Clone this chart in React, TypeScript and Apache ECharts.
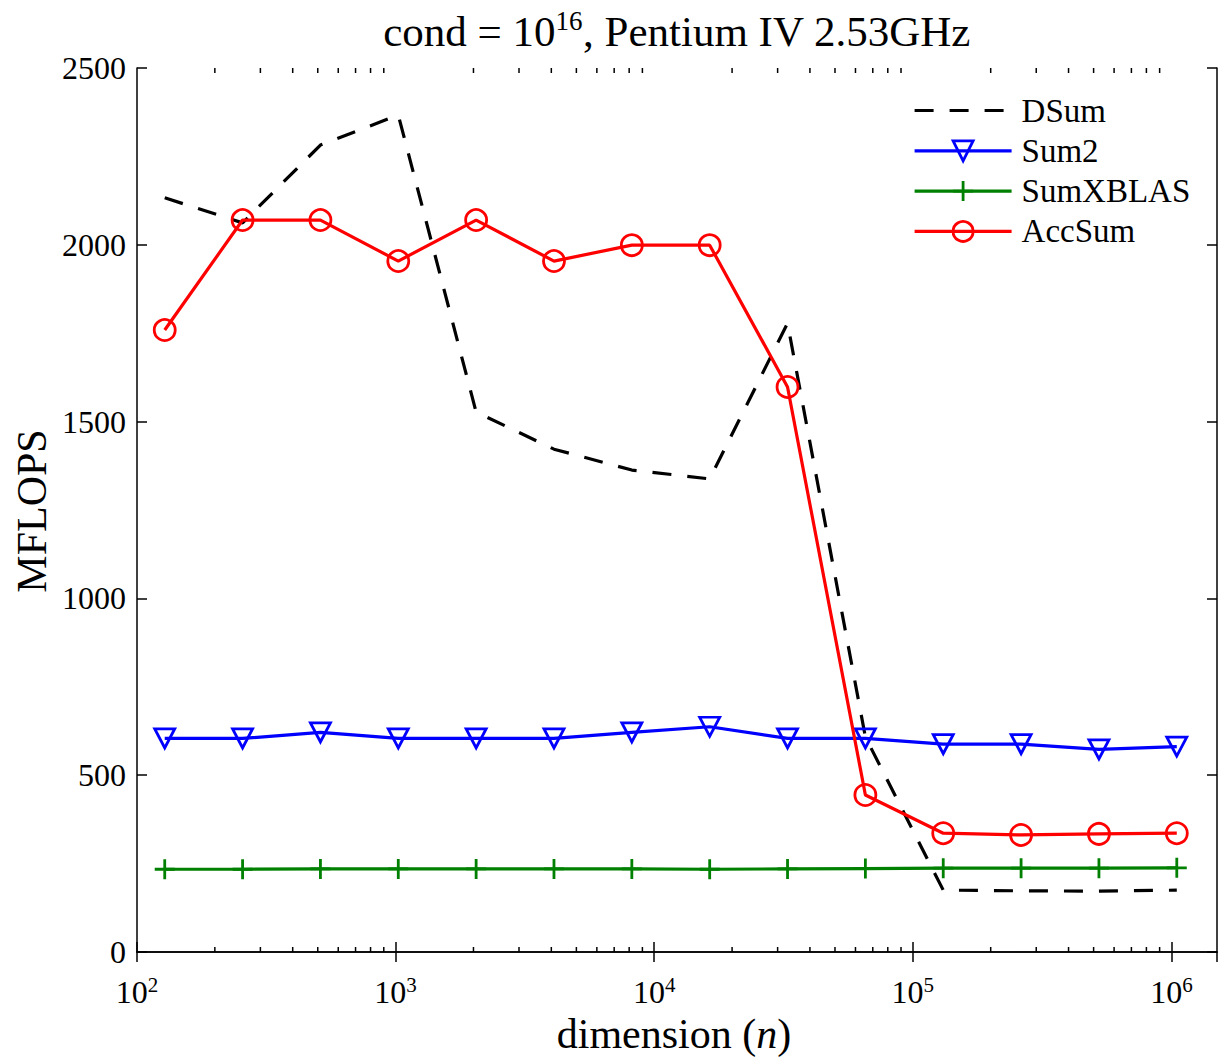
import React, { useEffect, useRef } from "react";
import * as echarts from "echarts";

const dims = [128, 256, 512, 1024, 2048, 4096, 8192, 16384, 32768, 65536, 131072, 262144, 524288, 1048576];
const dsum = [2133, 2062, 2282, 2367, 1527, 1422, 1363, 1338, 1778, 608, 175, 173, 172, 175];
const sum2 = [604, 604, 621, 604, 604, 604, 621, 637, 604, 604, 588, 588, 573, 581];
const sumxblas = [234, 234, 235, 235, 235, 235, 235, 234, 235, 236, 237, 237, 237, 238];
const accsum = [1759, 2070, 2070, 1954, 2070, 1954, 1999, 1999, 1598, 444, 336, 331, 334, 336];

const decades = [100, 1000, 10000, 100000, 1000000];
const minorMultipliers = [2, 3, 4, 5, 6, 7, 8, 9];

const FONT = "Liberation Serif";

export default function App() {
  const ref = useRef<HTMLDivElement>(null);
  useEffect(() => {
    if (!ref.current) return;
    const chart = echarts.init(ref.current, null, { renderer: "svg" });
    const pairs = (ys: number[]) => dims.map((d, i) => [d, ys[i]]);
    const minor: number[][] = [];
    decades.forEach((d) => minorMultipliers.forEach((m) => {
      const v = d * m;
      if (v < 1.5e6) minor.push([v, 0]);
    }));
    const supLabel = (v: number) => {
      const l = Math.log10(v);
      const e = Math.round(l);
      if (Math.abs(l - e) > 1e-6) return "";
      return `{b|10}{s|${e}}`;
    };
    const axisLineStyle = { color: "#000", width: 1.5 };
    const tickStyle = { color: "#000", width: 1.5 };
    chart.setOption({
      animation: false,
      backgroundColor: "#fff",
      textStyle: { fontFamily: FONT },
      grid: { left: 137, right: 2, top: 68, bottom: 108, containLabel: false },
      xAxis: [
        {
          type: "log",
          min: 100,
          max: 1.5e6,
          position: "bottom",
          axisLine: { lineStyle: axisLineStyle },
          axisTick: { inside: true, length: 10, lineStyle: tickStyle },
          splitLine: { show: false },
          axisLabel: {
            margin: 22,
            formatter: supLabel,
            showMaxLabel: false,
            rich: {
              b: { fontFamily: FONT, fontSize: 32, color: "#000", lineHeight: 34, verticalAlign: "bottom" },
              s: { fontFamily: FONT, fontSize: 21, color: "#000", lineHeight: 20, verticalAlign: "top" },
            },
          },
        },
        {
          type: "log",
          min: 100,
          max: 1.5e6,
          position: "top",
          axisLine: { lineStyle: axisLineStyle },
          axisTick: { inside: true, length: 10, lineStyle: tickStyle },
          splitLine: { show: false },
          axisLabel: { show: false },
        },
      ],
      yAxis: [
        {
          type: "value",
          min: 0,
          max: 2500,
          interval: 500,
          position: "left",
          axisLine: { show: true, lineStyle: axisLineStyle },
          axisTick: { show: true, inside: true, length: 10, lineStyle: tickStyle },
          splitLine: { show: false },
          axisLabel: {
            margin: 11,
            fontFamily: FONT,
            fontSize: 32,
            color: "#000",
            formatter: (v: number) => String(v),
          },
        },
        {
          type: "value",
          min: 0,
          max: 2500,
          interval: 500,
          position: "right",
          axisLine: { show: true, lineStyle: axisLineStyle },
          axisTick: { show: true, inside: true, length: 10, lineStyle: tickStyle },
          splitLine: { show: false },
          axisLabel: { show: false },
        },
      ],
      legend: {
        orient: "vertical",
        left: 908,
        top: 89,
        itemWidth: 97,
        itemHeight: 25,
        itemGap: 7.3,
        lineStyle: { width: 3.2 },
        itemStyle: { borderWidth: 2.8 },
        data: [
          { name: "DSum", itemStyle: { color: "rgba(0,0,0,0)", borderWidth: 0, opacity: 0 } },
          { name: "Sum2" },
          { name: "SumXBLAS" },
          { name: "AccSum" },
        ],
        textStyle: { fontFamily: FONT, fontSize: 33, color: "#000", padding: [0, 0, 0, 5] },
      },
      graphic: [
        {
          type: "text",
          x: 677,
          y: 30,
          style: {
            text: "{a|cond = 10}{s|16}{a|, Pentium IV 2.53GHz}",
            align: "center",
            verticalAlign: "middle",
            rich: {
              a: { fontFamily: FONT, fontSize: 43, fill: "#000", lineHeight: 46, verticalAlign: "bottom" },
              s: { fontFamily: FONT, fontSize: 27, fill: "#000", lineHeight: 24, verticalAlign: "top" },
            },
          },
        },
        {
          type: "text",
          x: 674,
          y: 1034,
          style: {
            text: "{a|dimension (}{i|n}{a|)}",
            align: "center",
            verticalAlign: "middle",
            rich: {
              a: { fontFamily: FONT, fontSize: 42, fill: "#000" },
              i: { fontFamily: FONT, fontSize: 42, fill: "#000", fontStyle: "italic" },
            },
          },
        },
        {
          type: "text",
          x: 32,
          y: 511,
          rotation: Math.PI / 2,
          style: {
            text: "MFLOPS",
            align: "center",
            verticalAlign: "middle",
            fontFamily: FONT,
            fontSize: 42,
            fill: "#000",
          },
        },
      ],
      series: [
        {
          name: "DSum",
          type: "line",
          data: pairs(dsum),
          symbol: "none",
          color: "#000",
          lineStyle: { color: "#000", width: 3.2, type: [19, 16] },
          z: 3,
        },
        {
          name: "Sum2",
          type: "line",
          data: pairs(sum2),
          symbol: "triangle",
          symbolRotate: 180,
          symbolSize: [20, 19],
          color: "#0000ff",
          lineStyle: { color: "#0000ff", width: 3.2 },
          itemStyle: { color: "rgba(0,0,0,0)", borderColor: "#0000ff", borderWidth: 2.8 },
          z: 4,
        },
        {
          name: "SumXBLAS",
          type: "line",
          data: pairs(sumxblas),
          symbol: "path://M10,0 L10,20 M0,10 L20,10",
          symbolSize: 20,
          color: "#008000",
          lineStyle: { color: "#008000", width: 3.2 },
          itemStyle: { color: "#008000", borderColor: "#008000", borderWidth: 2.8 },
          z: 4,
        },
        {
          name: "AccSum",
          type: "line",
          data: pairs(accsum),
          symbol: "circle",
          symbolSize: 21,
          color: "#ff0000",
          lineStyle: { color: "#ff0000", width: 3.2 },
          itemStyle: { color: "rgba(0,0,0,0)", borderColor: "#ff0000", borderWidth: 2.8 },
          z: 5,
        },
        {
          name: "minorTicks",
          type: "custom",
          data: minor,
          silent: true,
          clip: false,
          encode: { x: 0, y: 1 },
          renderItem: (params: any, api: any) => {
            const v = api.value(0);
            const b = api.coord([v, 0]);
            const t = api.coord([v, 2500]);
            return {
              type: "group",
              children: [
                { type: "line", shape: { x1: b[0], y1: b[1], x2: b[0], y2: b[1] - 5 }, style: { stroke: "#000", lineWidth: 1.5 } },
                { type: "line", shape: { x1: t[0], y1: t[1], x2: t[0], y2: t[1] + 5 }, style: { stroke: "#000", lineWidth: 1.5 } },
              ],
            };
          },
        },
      ],
    });
    return () => chart.dispose();
  }, []);
  return (
    <div
      ref={ref}
      style={{ position: "fixed", left: 0, top: 0, width: 1219, height: 1060, background: "#fff" }}
    />
  );
}
